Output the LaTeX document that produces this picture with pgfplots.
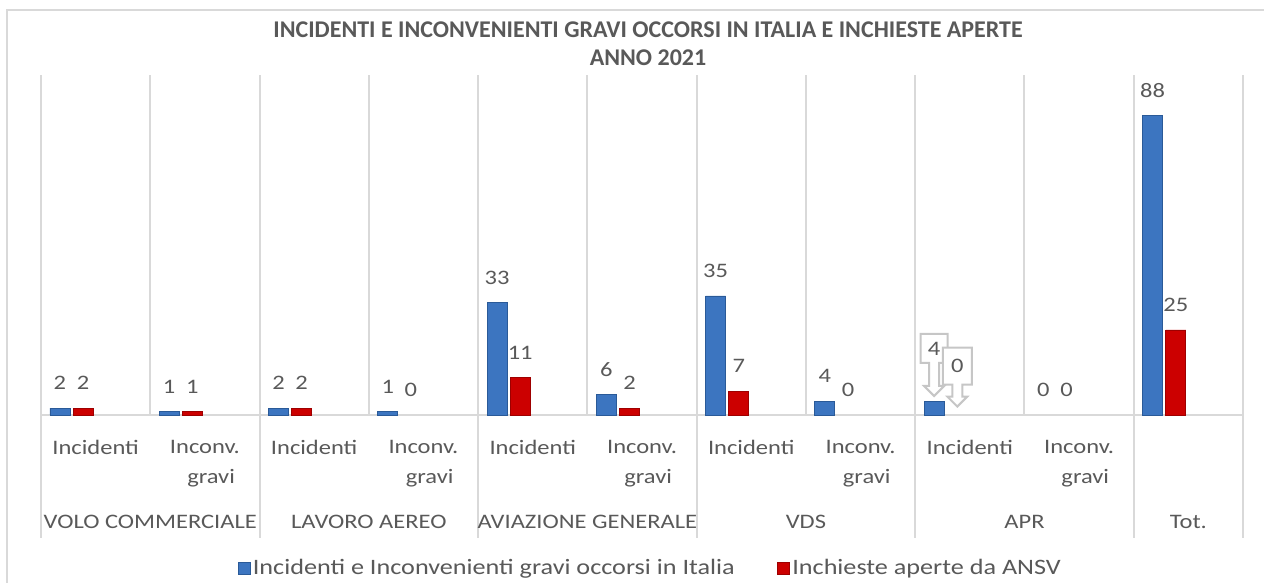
\documentclass[border=0pt]{standalone}
\usepackage{fontspec}
\setmainfont{Carlito}[FakeStretch=1.19]
\newfontfamily\titlefont{Carlito}
\usepackage{pgfplots}
\pgfplotsset{compat=1.18}
\usetikzlibrary{shapes.arrows}
\definecolor{txt}{HTML}{595959}
\definecolor{gridc}{HTML}{D9D9D9}
\definecolor{bdark}{HTML}{2A5A98}
\definecolor{bmid}{HTML}{3C75C0}
\definecolor{rdark}{HTML}{9E0000}
\definecolor{rmid}{HTML}{CC0000}
\begin{document}
\begin{tikzpicture}[x=1pt,y=1pt]
\useasboundingbox (0,0) rectangle (632,291.5);
\draw[gridc, line width=1pt] (3.5,-20) -- (3.5,286.5) -- (700,286.5);
\node[font=\titlefont\bfseries\fontsize{12}{14}\selectfont, text=txt, align=center] at (324,269.5)
  {INCIDENTI E INCONVENIENTI GRAVI OCCORSI IN ITALIA E INCHIESTE APERTE\\ANNO 2021};
\begin{axis}[
  at={(20.5pt,84pt)}, anchor=south west,
  scale only axis, width=601pt, height=170pt,
  xmin=-0.5, xmax=10.5, ymin=0, ymax=100,
  ybar, clip=false,
  axis x line*=bottom, axis y line=none,
  x axis line style={gridc, line width=1pt},
  ytick=\empty,
  xtick={0,1,2,3,4,5,6,7,8,9,10},
  xticklabels={Incidenti,Inconv.\\\hspace*{0.6em}gravi,Incidenti,Inconv.\\\hspace*{0.6em}gravi,Incidenti,Inconv.\\\hspace*{0.6em}gravi,Incidenti,Inconv.\\\hspace*{0.6em}gravi,Incidenti,Inconv.\\\hspace*{0.6em}gravi,{}},
  major tick length=0pt, minor tick length=0pt,
  minor xtick={-0.5,0.5,1.5,2.5,3.5,4.5,5.5,6.5,7.5,8.5,9.5,10.5},
  xminorgrids=true,
  minor grid style={gridc, line width=1pt},
  xticklabel style={align=center, text=txt, font=\fontsize{10.3}{15}\selectfont, anchor=north, inner sep=0pt, yshift=-12.5pt},
  /pgf/number format/assume math mode=true,
  bar width=10pt,
  every node near coord/.append style={text=txt, font=\fontsize{10.3}{12}\selectfont, inner sep=0pt, yshift=9pt},
  legend style={at={(0.507,-0.45)}, anchor=center, draw=none, legend columns=2,
    font=\fontsize{11}{13}\selectfont, text=txt,
    nodes={inner xsep=1.2pt},
    /tikz/every even column/.append style={column sep=20pt}},
  legend image code/.code={\fill[#1] (0pt,-3pt) rectangle (6pt,3pt);},
]
% blue series
\addplot[draw=bdark, line width=0.4pt, fill=bmid, bar shift=-17.85pt, nodes near coords]
  coordinates {(0,2)(1,1)(2,2)(3,1)(4,33)(5,6)(6,35)(7,4)(10,88)};
\addlegendentry{Incidenti e Inconvenienti gravi occorsi in Italia}
\addplot[forget plot, draw=none, fill=none, bar shift=-17.85pt, nodes near coords]
  coordinates {(9,0)};
\addplot[forget plot, draw=bdark, line width=0.4pt, fill=bmid, bar shift=-17.85pt, nodes near coords,
  every node near coord/.append style={arrow box, draw=gray!45, fill=white, line width=1pt, inner sep=2pt,
    minimum width=13.5pt, minimum height=14.5pt, arrow box arrows={south:16pt from border},
    arrow box shaft width=5pt, arrow box head extend=2.5pt, arrow box head indent=0pt,
    anchor=south arrow tip, yshift=-7pt}]
  coordinates {(8,4)};
% red series
\addplot[draw=rdark, line width=0.4pt, fill=rmid, bar shift=-6.25pt, nodes near coords]
  coordinates {(0,2)(1,1)(2,2)(4,11)(5,2)(6,7)(10,25)};
\addlegendentry{Inchieste aperte da ANSV}
\addplot[forget plot, draw=none, fill=none, bar shift=-6.25pt, nodes near coords]
  coordinates {(3,0)(7,0)(9,0)};
\addplot[forget plot, draw=none, fill=none, bar shift=-6.25pt, nodes near coords,
  every node near coord/.append style={arrow box, draw=gray!45, fill=white, line width=1pt, inner sep=2pt,
    minimum width=14.5pt, minimum height=18.5pt, arrow box arrows={south:10.5pt from border},
    arrow box shaft width=5pt, arrow box head extend=2.5pt, arrow box head indent=0pt,
    anchor=south arrow tip, yshift=-5.5pt}]
  coordinates {(8,0)};
% group separators and labels
\pgfplotsinvokeforeach{-0.5,1.5,3.5,5.5,7.5,9.5,10.5}{
  \draw[gridc, line width=1pt] (axis cs:#1,0) -- ++(0pt,-61.5pt);
}
\node[text=txt, font=\fontsize{10.3}{12}\selectfont] at (axis cs:0.5,0) [yshift=-53.5pt] {VOLO COMMERCIALE};
\node[text=txt, font=\fontsize{10.3}{12}\selectfont] at (axis cs:2.5,0) [yshift=-53.5pt] {LAVORO AEREO};
\node[text=txt, font=\fontsize{10.3}{12}\selectfont] at (axis cs:4.5,0) [yshift=-53.5pt] {AVIAZIONE GENERALE};
\node[text=txt, font=\fontsize{10.3}{12}\selectfont] at (axis cs:6.5,0) [yshift=-53.5pt] {VDS};
\node[text=txt, font=\fontsize{10.3}{12}\selectfont] at (axis cs:8.5,0) [yshift=-53.5pt] {APR};
\node[text=txt, font=\fontsize{10.3}{12}\selectfont] at (axis cs:10,0) [yshift=-53.5pt] {Tot.};
\end{axis}
\end{tikzpicture}
\end{document}
